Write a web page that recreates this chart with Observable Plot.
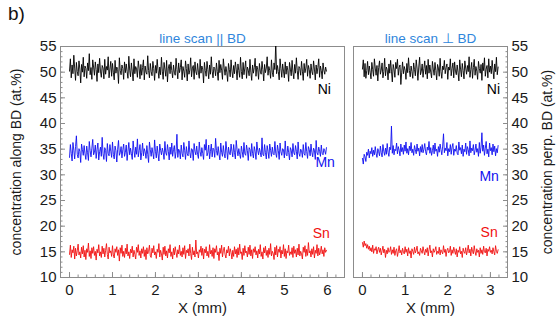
<!DOCTYPE html>
<html>
<head>
<meta charset="utf-8">
<script src="https://cdn.jsdelivr.net/npm/d3@7"></script>
<script src="https://cdn.jsdelivr.net/npm/@observablehq/plot@0.6"></script>
<style>
  body { margin: 0; background: #fff; font-family: "Liberation Sans", Arial, sans-serif; }
  #fig { position: relative; width: 557px; height: 324px; overflow: hidden; background: #fff; }
  #fig svg { position: absolute; left: 0; top: 0; }
  #tag { position: absolute; left: 8px; top: 3px; font-size: 19px; color: #111; }
</style>
</head>
<body>
<div id="fig"><div id="tag">b)</div></div>
<script>
// EDX line scans: sampling step along the scan (mm)
const scanStep = 0.02;

// Scan parallel to the build direction (0 – 5.98 mm)
const niAlong = [
  50.2, 52.6, 48.9, 51.4, 49.7, 53.3, 50.8, 48.4, 51.9, 50.1,
  49.3, 52.2, 50.6, 47.9, 51.5, 50.0, 52.9, 49.1, 51.2, 50.7,
  48.8, 51.8, 50.3, 53.6, 49.5, 50.9, 48.6, 52.4, 51.0, 49.4,
  52.0, 50.5, 48.2, 51.6, 49.9, 52.7, 50.2, 49.0, 51.3, 50.8,
  48.7, 52.5, 49.6, 51.1, 50.4, 53.0, 48.9, 50.6, 52.1, 49.2,
  51.7, 50.0, 48.5, 52.3, 49.8, 51.0, 50.5, 47.8, 52.8, 50.3,
  49.5, 51.4, 50.7, 48.6, 52.0, 49.9, 51.6, 50.1, 48.8, 53.1,
  50.4, 49.1, 51.8, 50.2, 48.3, 52.6, 49.7, 51.1, 50.6, 49.0,
  52.2, 50.8, 48.7, 51.5, 49.4, 50.9, 52.4, 48.5, 51.2, 50.0,
  49.6, 53.2, 50.3, 48.9, 51.7, 50.1, 49.3, 52.1, 50.7, 48.4,
  51.3, 49.8, 52.5, 50.4, 48.8, 51.0, 49.5, 52.9, 50.2, 48.6,
  51.9, 50.6, 49.2, 52.3, 48.1, 50.8, 51.5, 49.7, 52.0, 50.3,
  48.9, 51.4, 50.0, 49.4, 52.7, 50.5, 48.7, 51.8, 49.9, 50.9,
  52.4, 48.5, 51.1, 50.2, 49.0, 52.2, 50.7, 48.3, 51.6, 49.6,
  50.4, 52.8, 49.1, 50.8, 51.3, 48.6, 52.0, 50.1, 49.5, 51.7,
  50.0, 48.8, 52.5, 49.8, 51.2, 50.6, 47.9, 51.9, 50.3, 49.2,
  52.1, 50.5, 48.7, 51.4, 49.6, 53.0, 50.2, 48.9, 51.0, 50.7,
  49.3, 51.8, 50.1, 48.4, 52.3, 49.9, 51.5, 50.4, 48.6, 52.6,
  50.8, 49.4, 51.1, 50.0, 48.2, 51.7, 50.5, 49.1, 52.4, 50.2,
  48.9, 51.3, 49.7, 52.0, 50.6, 48.5, 51.6, 50.3, 49.0, 52.9,
  50.1, 48.7, 51.9, 49.5, 50.8, 52.2, 48.8, 51.0, 50.4, 49.3,
  52.5, 50.0, 48.4, 51.4, 49.8, 50.9, 52.7, 49.2, 51.2, 50.6,
  48.6, 51.7, 50.2, 49.6, 52.1, 50.5, 48.3, 51.5, 49.9, 50.8,
  53.0, 49.4, 51.1, 50.3, 48.8, 52.4, 50.0, 49.1, 51.8, 50.5,
  55.8, 49.7, 51.3, 50.1, 48.5, 52.6, 50.7, 49.0, 51.6, 50.2,
  48.9, 52.0, 49.6, 51.2, 50.4, 48.2, 51.9, 50.6, 49.3, 52.3,
  50.0, 48.7, 51.5, 49.8, 52.8, 50.3, 48.6, 51.1, 50.7, 49.4,
  52.1, 50.2, 48.4, 51.7, 49.9, 50.8, 52.5, 49.2, 51.3, 50.5,
  48.8, 51.6, 50.1, 49.5, 52.2, 50.6, 48.5, 51.4, 49.7, 50.9,
  52.6, 49.0, 51.2, 50.3, 48.7, 51.8, 50.4, 49.6, 51.0, 50.2
];
const mnAlong = [
  33.4, 35.9, 34.2, 32.7, 36.3, 34.8, 33.1, 35.5, 37.6, 34.0,
  33.3, 35.1, 34.6, 32.4, 36.0, 34.9, 33.8, 35.7, 34.1, 33.0,
  35.6, 34.3, 32.8, 36.5, 34.7, 33.5, 35.2, 36.9, 33.9, 34.4,
  35.8, 33.2, 34.9, 36.2, 32.9, 34.5, 35.4, 33.6, 37.3, 34.1,
  33.0, 35.3, 34.8, 32.6, 36.1, 34.2, 33.7, 35.9, 34.6, 33.4,
  36.4, 34.0, 33.1, 35.6, 34.7, 32.5, 35.0, 36.7, 33.8, 34.3,
  35.5, 33.3, 34.9, 36.0, 33.6, 34.4, 35.8, 32.8, 34.6, 36.3,
  33.9, 35.2, 34.1, 33.0, 36.6, 34.8, 33.4, 35.4, 34.0, 37.0,
  33.5, 34.7, 35.9, 32.9, 34.3, 36.2, 33.7, 35.1, 34.5, 33.2,
  35.7, 34.0, 32.4, 36.4, 34.9, 33.6, 35.3, 34.2, 33.1, 36.8,
  34.6, 33.3, 35.6, 34.1, 32.7, 36.0, 34.8, 33.9, 35.2, 34.4,
  33.0, 36.5, 34.3, 33.8, 35.9, 34.6, 32.9, 35.4, 34.0, 36.2,
  33.6, 34.9, 35.7, 33.2, 34.5, 37.9, 33.4, 35.0, 34.7, 33.1,
  35.8, 34.2, 33.5, 36.3, 34.8, 33.0, 35.5, 34.1, 33.7, 36.6,
  34.4, 33.3, 35.1, 34.9, 32.8, 36.1, 34.6, 33.9, 35.6, 34.0,
  33.2, 36.4, 34.5, 33.6, 35.3, 34.2, 33.0, 35.9, 34.8, 36.9,
  33.7, 34.3, 35.8, 33.1, 34.6, 36.0, 33.5, 35.2, 34.9, 33.4,
  37.1, 34.7, 33.8, 35.5, 34.0, 32.9, 36.2, 34.4, 33.6, 35.7,
  34.1, 33.3, 36.5, 34.8, 33.0, 35.4, 34.2, 33.9, 36.0, 34.6,
  33.5, 35.9, 34.3, 33.1, 36.7, 34.9, 33.7, 35.1, 34.0, 33.2,
  35.6, 34.5, 33.4, 36.3, 34.1, 33.8, 35.8, 34.7, 32.8, 35.3,
  34.9, 33.6, 36.1, 34.2, 33.3, 35.5, 34.6, 33.0, 36.4, 34.8,
  33.9, 35.2, 34.4, 33.5, 37.2, 34.0, 33.7, 35.9, 34.3, 33.1,
  35.7, 34.6, 33.2, 36.0, 34.8, 33.6, 35.4, 34.1, 33.9, 36.5,
  34.2, 33.4, 35.8, 34.7, 33.0, 36.2, 34.5, 33.8, 35.1, 34.9,
  33.3, 36.6, 34.0, 33.7, 35.6, 34.4, 32.9, 35.3, 34.8, 33.5,
  36.1, 34.3, 33.9, 35.7, 34.6, 33.1, 36.4, 34.2, 33.6, 35.0,
  34.7, 33.4, 35.9, 34.1, 33.8, 36.3, 34.5, 33.2, 35.5, 34.9,
  33.7, 36.0, 34.4, 33.5, 35.2, 34.8, 33.0, 36.7, 34.3, 33.9,
  35.4, 34.6, 33.6, 35.8, 34.2, 33.9, 35.1, 34.7, 34.0, 35.3
];
const snAlong = [
  14.5, 16.3, 13.9, 15.4, 14.8, 16.1, 13.6, 15.7, 14.2, 15.2,
  16.5, 14.4, 15.0, 13.8, 15.9, 14.6, 16.2, 14.0, 15.3, 13.5,
  15.6, 14.9, 16.7, 14.1, 15.2, 13.7, 15.8, 14.7, 16.0, 14.3,
  15.1, 13.4, 15.5, 14.8, 16.4, 14.2, 15.0, 13.9, 16.1, 14.6,
  15.7, 14.0, 15.3, 16.6, 14.5, 13.6, 15.9, 14.8, 15.2, 14.1,
  16.2, 14.4, 13.8, 15.6, 14.9, 16.0, 14.3, 15.4, 13.2, 15.8,
  14.7, 16.3, 14.1, 15.1, 13.9, 15.7, 14.6, 16.5, 14.2, 15.0,
  13.7, 15.5, 14.8, 16.1, 14.0, 15.3, 14.5, 13.6, 15.9, 14.9,
  16.4, 14.3, 15.2, 13.8, 15.6, 14.7, 16.0, 14.1, 15.4, 13.5,
  15.8, 14.6, 15.1, 16.3, 14.2, 13.9, 15.7, 14.8, 16.2, 14.4,
  15.0, 13.7, 15.5, 14.9, 16.6, 14.0, 15.3, 14.6, 13.4, 15.9,
  14.5, 16.1, 14.2, 15.2, 13.8, 15.6, 14.8, 16.4, 14.1, 15.0,
  13.6, 15.7, 14.4, 16.0, 14.9, 13.9, 15.4, 14.6, 16.3, 14.3,
  15.1, 14.0, 15.8, 14.5, 16.2, 13.7, 15.3, 14.8, 15.6, 14.2,
  16.5, 14.7, 13.5, 15.9, 14.4, 15.2, 14.0, 17.3, 14.6, 15.0,
  13.8, 15.4, 14.9, 16.1, 14.3, 15.7, 13.6, 15.5, 14.8, 16.0,
  14.2, 15.1, 13.9, 16.4, 14.6, 15.3, 14.1, 15.8, 13.7, 15.6,
  14.9, 16.2, 14.4, 15.0, 13.3, 15.7, 14.7, 16.3, 14.0, 15.2,
  15.9, 14.5, 13.8, 15.4, 14.8, 16.1, 14.2, 15.6, 14.9, 13.6,
  15.3, 14.1, 16.0, 14.6, 15.5, 13.9, 15.8, 14.4, 16.5, 14.7,
  15.0, 13.5, 15.7, 14.3, 16.2, 14.8, 15.1, 14.0, 15.9, 14.5,
  16.3, 14.2, 15.4, 13.7, 15.6, 14.9, 16.0, 14.4, 15.2, 13.8,
  15.5, 14.6, 16.4, 14.1, 15.0, 13.6, 15.8, 14.8, 16.1, 14.3,
  15.3, 13.9, 15.7, 14.5, 16.6, 14.2, 15.1, 14.7, 13.5, 15.9,
  14.4, 16.2, 14.0, 15.5, 14.9, 16.0, 13.8, 15.3, 14.6, 16.4,
  14.1, 15.6, 13.7, 15.2, 14.8, 16.3, 14.3, 15.0, 14.5, 15.8,
  13.9, 16.1, 14.7, 15.4, 14.0, 15.7, 14.4, 16.5, 14.2, 15.1,
  14.6, 13.6, 15.9, 14.9, 16.2, 14.1, 15.5, 14.3, 16.8, 14.8,
  15.2, 14.0, 15.6, 14.5, 16.0, 13.8, 15.3, 14.7, 16.4, 14.2,
  15.7, 14.4, 15.0, 16.1, 14.6, 15.4, 14.1, 15.8, 14.9, 15.3
];

// Scan perpendicular to the build direction (0 – 3.18 mm)
const niPerp = [
  50.6, 52.4, 49.1, 51.7, 48.8, 50.3, 52.1, 49.5, 51.2, 50.0,
  48.7, 51.9, 50.5, 49.2, 52.6, 50.8, 49.4, 51.3, 48.3, 50.9,
  52.2, 49.6, 50.4, 51.8, 48.9, 50.1, 52.7, 49.3, 51.0, 50.5,
  48.5, 51.6, 49.8, 52.3, 50.2, 48.1, 51.5, 50.6, 49.0, 51.9,
  50.7, 52.5, 49.4, 50.9, 51.4, 47.6, 50.0, 52.0, 49.7, 51.1,
  50.4, 48.6, 51.7, 49.9, 52.8, 50.3, 49.1, 51.2, 50.1, 48.8,
  51.8, 50.5, 49.3, 52.4, 50.8, 48.4, 51.0, 52.9, 49.5, 50.2,
  51.6, 49.0, 50.7, 52.2, 49.6, 51.3, 48.7, 52.5, 49.8, 51.4,
  50.0, 48.9, 52.1, 50.6, 49.4, 51.9, 50.3, 48.5, 51.5, 50.8,
  49.2, 52.7, 50.1, 48.8, 51.2, 50.5, 52.3, 49.7, 50.9, 51.6,
  48.6, 51.0, 50.4, 52.6, 49.3, 50.7, 51.8, 48.9, 52.0, 50.2,
  49.5, 51.4, 50.0, 48.3, 52.4, 50.6, 49.1, 51.7, 50.3, 48.7,
  52.2, 50.8, 49.6, 51.3, 50.1, 53.0, 49.0, 50.5, 51.9, 48.8,
  50.9, 52.5, 49.4, 51.1, 50.2, 48.6, 52.1, 50.7, 49.8, 51.5,
  48.4, 51.8, 50.3, 52.8, 49.2, 50.6, 51.3, 48.9, 52.6, 50.0,
  51.2, 49.7, 52.3, 50.4, 48.7, 51.6, 50.1, 52.9, 49.5, 51.0
];
const mnPerp = [
  33.2, 32.1, 34.0, 33.5, 32.6, 34.4, 33.8, 35.0, 33.3, 34.6,
  34.1, 35.3, 33.6, 34.8, 33.9, 35.5, 34.2, 33.4, 35.1, 34.5,
  33.7, 35.6, 34.3, 33.5, 35.9, 34.6, 33.8, 35.2, 34.0, 36.1,
  34.4, 33.6, 35.4, 34.9, 39.5, 34.2, 35.7, 33.9, 35.0, 34.7,
  36.2, 34.1, 35.5, 34.8, 33.7, 36.0, 34.5, 35.3, 34.0, 35.8,
  34.6, 36.4, 34.2, 35.1, 33.9, 35.6, 34.7, 36.3, 34.3, 35.0,
  33.8, 35.7, 34.9, 34.1, 36.0, 34.6, 35.2, 33.7, 35.5, 34.4,
  35.9, 34.3, 35.0, 36.1, 34.5, 33.9, 35.4, 34.8, 36.5, 34.2,
  35.3, 33.8, 34.7, 35.8, 34.1, 36.2, 34.6, 35.0, 33.6, 35.5,
  34.4, 36.0, 34.9, 33.9, 35.6, 38.0, 34.3, 35.2, 34.7, 36.3,
  33.7, 35.1, 34.5, 35.9, 34.0, 35.4, 36.1, 33.8, 35.0, 34.6,
  35.7, 34.2, 33.9, 36.4, 34.8, 35.3, 34.1, 35.8, 33.6, 35.0,
  34.5, 36.2, 34.0, 35.5, 34.9, 33.7, 36.6, 34.3, 35.2, 34.7,
  35.9, 33.9, 34.8, 36.0, 34.4, 35.1, 33.6, 36.3, 34.2, 35.4,
  38.2, 34.6, 35.8, 33.8, 35.2, 36.5, 34.1, 35.0, 33.5, 36.2,
  34.7, 35.3, 33.9, 36.0, 34.5, 35.6, 33.7, 35.1, 34.3, 35.7
];
const snPerp = [
  16.8, 15.9, 17.1, 16.2, 16.6, 15.7, 16.4, 15.5, 16.1, 15.2,
  15.8, 15.0, 16.3, 14.7, 15.6, 15.3, 16.0, 14.6, 15.4, 15.9,
  14.9, 15.7, 14.4, 15.2, 16.1, 14.8, 15.5, 13.9, 15.3, 14.6,
  15.8, 14.9, 15.1, 16.0, 14.5, 15.4, 14.7, 15.9, 14.3, 15.2,
  15.6, 14.1, 15.0, 16.2, 14.8, 15.3, 14.4, 15.7, 15.0, 14.6,
  16.0, 14.9, 15.5, 14.2, 15.8, 14.7, 15.2, 13.8, 15.6, 15.1,
  14.5, 15.9, 14.8, 15.3, 16.1, 14.6, 15.0, 14.3, 15.7, 15.2,
  14.7, 16.0, 15.1, 14.4, 15.5, 14.9, 15.8, 14.2, 15.4, 16.3,
  14.8, 15.2, 14.0, 15.6, 14.9, 15.3, 16.0, 14.5, 15.1, 14.7,
  15.9, 14.4, 15.4, 15.0, 14.6, 16.2, 14.9, 15.5, 14.1, 15.3,
  15.7, 14.8, 15.0, 16.1, 14.3, 15.4, 14.7, 15.9, 15.2, 14.5,
  15.6, 14.0, 15.3, 14.9, 16.0, 14.6, 15.1, 13.9, 15.7, 15.0,
  14.7, 15.8, 14.4, 15.2, 16.3, 14.8, 15.5, 14.2, 15.9, 15.1,
  14.6, 16.2, 15.0, 14.3, 15.6, 14.9, 15.3, 14.0, 15.8, 14.7,
  15.4, 14.5, 16.1, 15.0, 14.8, 15.7, 14.2, 15.5, 15.1, 16.0,
  14.9, 15.3, 14.6, 15.8, 15.0, 14.4, 16.2, 15.1, 14.7, 15.4
];

// Element names, colours and where their names sit in each panel
const elements = ["Ni", "Mn", "Sn"];
const elementColors = ["#000000", "#1010f0", "#f01010"];
const labelsAlong = [{x: 5.93, y: 46.6}, {x: 5.95, y: 32.4}, {x: 5.86, y: 18.6}];
const labelsPerp = [{x: 3.07, y: 46.7}, {x: 2.97, y: 29.6}, {x: 2.97, y: 18.7}];

// Axis ticks
const yMajor = [10, 15, 20, 25, 30, 35, 40, 45, 50, 55];
const yMinor = d3.range(10, 55.01, 1);
const xMajorAlong = [0, 1, 2, 3, 4, 5, 6];
const xMajorPerp = [0, 1, 2, 3];

const titleColor = "#2f86dc";
const axisColor = "#8c8c8c";
const font = '"Liberation Sans", Arial, sans-serif';

function toRows(values, element) {
  return values.map((v, i) => ({x: i * scanStep, y: v, element}));
}

function panel({series, labels, xDomain, xMajor, marginLeft, marginRight, side, title, yLabel, labelDx}) {
  const rows = series.flatMap((vals, k) => toRows(vals, elements[k]));
  const xMinor = d3.range(0, xDomain[1], 0.2);
  const labelRows = labels.map((p, k) => ({...p, name: elements[k]}));
  return Plot.plot({
    width: 557,
    height: 324,
    marginLeft,
    marginRight,
    marginTop: 46,
    marginBottom: 47,
    style: {background: "transparent", fontFamily: font, color: "#1a1a1a", overflow: "visible"},
    x: {domain: xDomain},
    y: {domain: [10, 55]},
    color: {domain: elements, range: elementColors},
    marks: [
      Plot.frame({stroke: axisColor, strokeWidth: 1}),
      Plot.axisY({anchor: side, ticks: yMinor, tickSize: -2.5, text: null, label: null, stroke: axisColor}),
      Plot.axisY({anchor: side, ticks: yMajor, tickSize: -5, tickPadding: 9, label: null, stroke: axisColor, fontSize: 15, fill: "#1a1a1a"}),
      Plot.axisX({anchor: "bottom", ticks: xMinor, tickSize: -2.5, text: null, label: null, stroke: axisColor}),
      Plot.axisX({anchor: "bottom", ticks: xMajor, tickSize: -5, tickPadding: 12, label: null, stroke: axisColor, fontSize: 15, fill: "#1a1a1a", tickFormat: d3.format("d")}),
      Plot.line(rows, {x: "x", y: "y", z: "element", stroke: "element", strokeWidth: 0.9, clip: true}),
      Plot.text(labelRows, {x: "x", y: "y", text: "name", fill: (d, i) => elementColors[i], fontSize: 14}),
      Plot.text([title], {frameAnchor: "top", dy: -13, fill: titleColor, fontSize: 13.5}),
      Plot.text(["X (mm)"], {frameAnchor: "bottom", dy: 35, fontSize: 15, fill: "#1a1a1a"}),
      Plot.text([yLabel], {frameAnchor: side, dx: labelDx, rotate: -90, textAnchor: "middle", fontSize: 14, fill: "#1a1a1a"})
    ]
  });
}

const fig = document.getElementById("fig");

fig.append(panel({
  series: [niAlong, mnAlong, snAlong],
  labels: labelsAlong,
  xDomain: [-0.21, 6.4],
  xMajor: xMajorAlong,
  marginLeft: 60,
  marginRight: 213,
  side: "left",
  title: "line scan || BD",
  yLabel: "concentration along BD (at.%)",
  labelDx: -44
}));

fig.append(panel({
  series: [niPerp, mnPerp, snPerp],
  labels: labelsPerp,
  xDomain: [-0.21, 3.4],
  xMajor: xMajorPerp,
  marginLeft: 353,
  marginRight: 50,
  side: "right",
  title: "line scan \u22A5 BD",
  yLabel: "concentration perp. BD (at.%)",
  labelDx: 40
}));
</script>
</body>
</html>
